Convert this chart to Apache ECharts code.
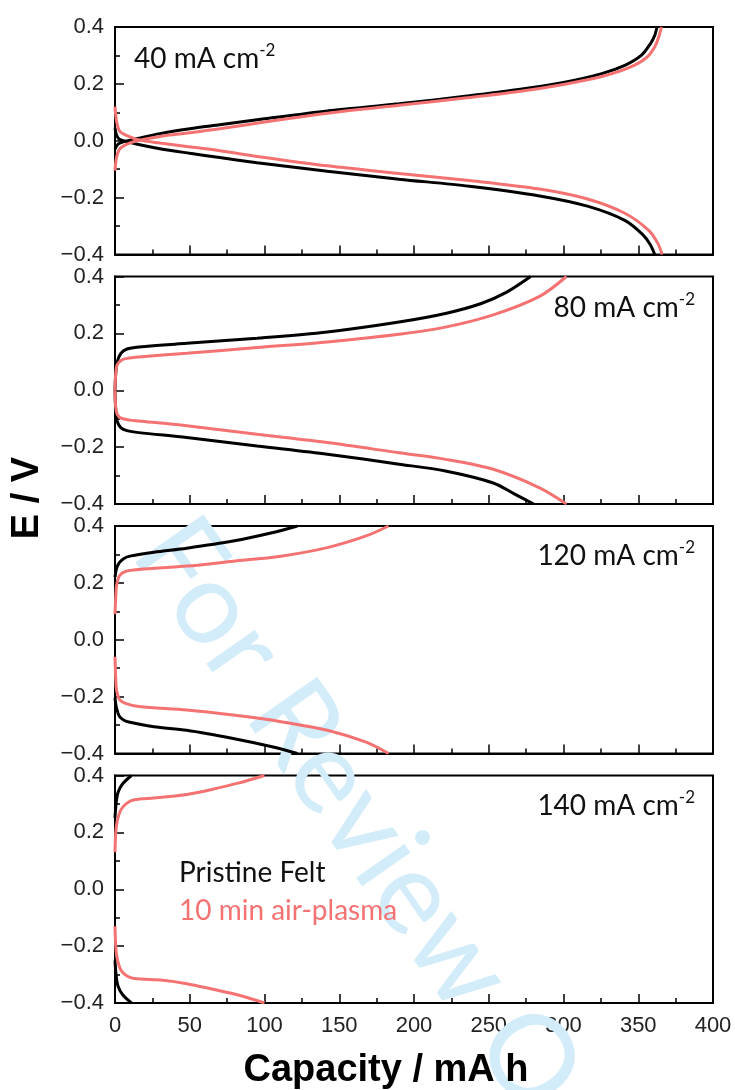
<!DOCTYPE html>
<html>
<head>
<meta charset="utf-8">
<script src="https://cdn.jsdelivr.net/npm/echarts@6/dist/echarts.min.js"></script>
<style>
html,body{margin:0;padding:0;background:#fff;}
#chart{width:735px;height:1090px;}
</style>
</head>
<body>
<div id="chart"></div>
<script>
// ---------- DATA ----------
const xTicks = [0, 50, 100, 150, 200, 250, 300, 350, 400];
const yTicks = [-0.4, -0.2, 0.0, 0.2, 0.4];
const panelLabels = ['40', '80', '120', '140'];
const seriesNames = ['Pristine Felt', '10 min air-plasma'];

// 40 mA cm-2
const p40_pristine_charge = [[0,-0.03],[2,-0.012],[6,-0.003],[15,0.008],[30,0.025],[50,0.042],[70,0.056],[100,0.077],[142,0.105],[190,0.13],[237,0.158],[270,0.18],[300,0.205],[325,0.235],[341,0.265],[352,0.3],[358,0.34],[361,0.37],[362.5,0.4]];
const p40_pristine_discharge = [[0,0.045],[1,0.02],[3,0.005],[8,-0.003],[15,-0.012],[30,-0.028],[50,-0.044],[70,-0.059],[95,-0.077],[142,-0.107],[190,-0.135],[237,-0.16],[284,-0.194],[316,-0.23],[341,-0.28],[353,-0.33],[358,-0.365],[361,-0.4]];
const p40_plasma_charge = [[0,-0.105],[1,-0.06],[3,-0.03],[8,-0.012],[15,0.0],[30,0.015],[50,0.028],[70,0.042],[100,0.066],[142,0.097],[190,0.125],[237,0.152],[270,0.173],[300,0.198],[325,0.225],[343,0.255],[355,0.29],[361,0.33],[364,0.37],[365.5,0.4]];
const p40_plasma_discharge = [[0,0.12],[1,0.07],[3,0.035],[8,0.018],[16,0.003],[30,-0.008],[48,-0.02],[70,-0.035],[95,-0.055],[142,-0.088],[190,-0.115],[237,-0.14],[284,-0.17],[316,-0.205],[341,-0.255],[357,-0.315],[363,-0.36],[366,-0.4]];

// 80 mA cm-2
const p80_pristine_charge = [[0,0.0],[0.5,0.06],[1.5,0.1],[4,0.13],[8,0.145],[16,0.152],[48,0.165],[95,0.183],[142,0.205],[190,0.24],[221,0.27],[245,0.305],[262,0.345],[278,0.4]];
const p80_pristine_discharge = [[0,0.0],[0.5,-0.07],[1.5,-0.11],[4,-0.132],[8,-0.142],[16,-0.149],[48,-0.166],[95,-0.196],[142,-0.225],[190,-0.26],[221,-0.284],[253,-0.326],[268,-0.367],[280,-0.4]];
const p80_plasma_charge = [[0,0.0],[0.5,0.06],[1.5,0.09],[4,0.105],[8,0.112],[16,0.117],[48,0.13],[95,0.15],[142,0.17],[190,0.197],[221,0.222],[253,0.265],[284,0.33],[302,0.4]];
const p80_plasma_discharge = [[0,0.0],[0.5,-0.06],[1.5,-0.085],[4,-0.098],[10,-0.105],[16,-0.108],[48,-0.125],[95,-0.155],[142,-0.184],[190,-0.22],[221,-0.243],[253,-0.278],[284,-0.343],[302,-0.4]];

// 120 mA cm-2
const p120_pristine_charge = [[0,0.22],[1,0.25],[3,0.272],[6,0.286],[10,0.294],[26,0.308],[48,0.322],[79,0.347],[105,0.376],[122,0.4]];
const p120_pristine_discharge = [[0,-0.205],[1,-0.24],[3,-0.27],[6,-0.283],[10,-0.29],[26,-0.306],[48,-0.318],[79,-0.347],[105,-0.376],[122,-0.4]];
const p120_plasma_charge = [[0,0.09],[0.5,0.15],[1,0.19],[3,0.225],[7,0.24],[16,0.247],[48,0.259],[79,0.276],[111,0.294],[142,0.324],[168,0.365],[183,0.4]];
const p120_plasma_discharge = [[0,-0.06],[0.5,-0.14],[1,-0.176],[3,-0.21],[7,-0.224],[16,-0.235],[48,-0.247],[79,-0.265],[111,-0.288],[142,-0.318],[168,-0.36],[183,-0.4]];

// 140 mA cm-2
const p140_pristine_charge = [[0,0.25],[0.7,0.3],[2,0.34],[5,0.37],[11,0.4]];
const p140_pristine_discharge = [[0,-0.25],[0.7,-0.3],[2,-0.34],[5,-0.37],[11,-0.4]];
const p140_plasma_charge = [[0,0.13],[0.5,0.2],[1.5,0.24],[4,0.28],[8,0.303],[13,0.315],[26,0.321],[40,0.328],[48,0.333],[64,0.35],[83,0.374],[100,0.4]];
const p140_plasma_discharge = [[0,-0.13],[0.5,-0.2],[1.5,-0.245],[4,-0.285],[8,-0.305],[13,-0.314],[32,-0.32],[48,-0.332],[64,-0.35],[83,-0.373],[100,-0.4]];

const panelCurves = [
  [p40_pristine_charge, p40_pristine_discharge, p40_plasma_charge, p40_plasma_discharge],
  [p80_pristine_charge, p80_pristine_discharge, p80_plasma_charge, p80_plasma_discharge],
  [p120_pristine_charge, p120_pristine_discharge, p120_plasma_charge, p120_plasma_discharge],
  [p140_pristine_charge, p140_pristine_discharge, p140_plasma_charge, p140_plasma_discharge]
];

// ---------- STYLE / LAYOUT ----------
const BLACK = '#000000';
const RED = '#f47272';
const TICK_FONT = "'Liberation Sans', Arial, sans-serif";
const TEXT_FONT = "Lato, 'Open Sans', sans-serif";
const gridTops = [27, 276.5, 526, 775.5];
const gridH = 227.5;
const gridLeft = 115, gridRight = 22;

const chart = echarts.init(document.getElementById('chart'), null, {renderer: 'canvas'});

const grids = [], xAxes = [], yAxes = [], series = [], titles = [];
gridTops.forEach((top, i) => {
  grids.push({left: gridLeft, right: gridRight, top: top, height: gridH, show: true,
    borderColor: BLACK, borderWidth: 2, backgroundColor: 'transparent', containLabel: false});
  xAxes.push({type: 'value', gridIndex: i, min: xTicks[0], max: xTicks[xTicks.length-1], interval: 50,
    axisLine: {show: true, onZero: false, lineStyle: {color: BLACK, width: 2}},
    axisTick: {show: true, inside: true, length: 9, lineStyle: {color: BLACK, width: 1.5}},
    minorTick: {show: true, splitNumber: 2, length: 5, lineStyle: {color: BLACK, width: 1.5}},
    splitLine: {show: false},
    axisLabel: {show: i === 3, margin: 12, fontFamily: TICK_FONT, fontSize: 22, color: '#222'}
  });
  yAxes.push({type: 'value', gridIndex: i, min: yTicks[0], max: yTicks[yTicks.length-1], interval: 0.2,
    axisLine: {show: true, onZero: false, lineStyle: {color: BLACK, width: 2}},
    axisTick: {show: true, inside: true, length: 9, lineStyle: {color: BLACK, width: 1.5}},
    minorTick: {show: true, splitNumber: 2, length: 5, lineStyle: {color: BLACK, width: 1.5}},
    splitLine: {show: false},
    axisLabel: {margin: 11, fontFamily: TICK_FONT, fontSize: 22, color: '#222',
      formatter: v => (v < 0 ? '\u2212' : '') + Math.abs(v).toFixed(1)}
  });
  panelCurves[i].forEach((curve, k) => {
    const col = k < 2 ? BLACK : RED;
    series.push({type: 'line', name: seriesNames[k < 2 ? 0 : 1], xAxisIndex: i, yAxisIndex: i,
      data: curve, showSymbol: false, smooth: 0.3, clip: true, z: 3 + (k < 2 ? 0 : 1),
      lineStyle: {color: col, width: 3}, itemStyle: {color: col}, animation: false});
  });
});

const labelRich = {
  a: {fontFamily: TEXT_FONT, fontWeight: 'normal', fontSize: 28, color: '#111', lineHeight: 34},
  s: {fontFamily: TEXT_FONT, fontWeight: 'normal', fontSize: 17, color: '#111', verticalAlign: 'top', lineHeight: 20}
};
const labelPos = [
  {left: 134, top: 42},
  {right: 40, top: 291},
  {right: 40, top: 539},
  {right: 40, top: 789}
];
panelLabels.forEach((p, i) => {
  titles.push(Object.assign({text: '{a|' + p + ' mA cm}{s|-2}', padding: 0,
    textStyle: {fontWeight: 'normal', rich: labelRich}}, labelPos[i]));
});

const option = {
  animation: false,
  backgroundColor: '#ffffff',
  title: titles,
  grid: grids,
  xAxis: xAxes,
  yAxis: yAxes,
  series: series,
  graphic: [
    {type: 'text', x: 160, y: 532, rotation: -55 * Math.PI / 180, z: 1, silent: true,
      style: {text: 'For Review Only', font: "116px Lato, 'Open Sans', sans-serif", fill: '#d3ecfa',
        textAlign: 'left', textVerticalAlign: 'middle'}},
    {type: 'text', x: 179, y: 873, z: 10,
      style: {text: seriesNames[0], font: "28px Lato, 'Open Sans', sans-serif", fill: '#111',
        textAlign: 'left', textVerticalAlign: 'middle'}},
    {type: 'text', x: 179, y: 911, z: 10,
      style: {text: seriesNames[1], font: "28px Lato, 'Open Sans', sans-serif", fill: RED,
        textAlign: 'left', textVerticalAlign: 'middle'}},
    {type: 'text', x: 28, y: 498, rotation: Math.PI / 2, z: 10,
      style: {text: 'E / V', font: "bold 38px 'Liberation Sans', Arial, sans-serif", fill: '#000',
        textAlign: 'center', textVerticalAlign: 'middle'}},
    {type: 'text', x: 386, y: 1071, z: 10,
      style: {text: 'Capacity / mA h', font: "bold 38px 'Liberation Sans', Arial, sans-serif", fill: '#000',
        textAlign: 'center', textVerticalAlign: 'middle'}}
  ]
};
chart.setOption(option);
</script>
</body>
</html>
